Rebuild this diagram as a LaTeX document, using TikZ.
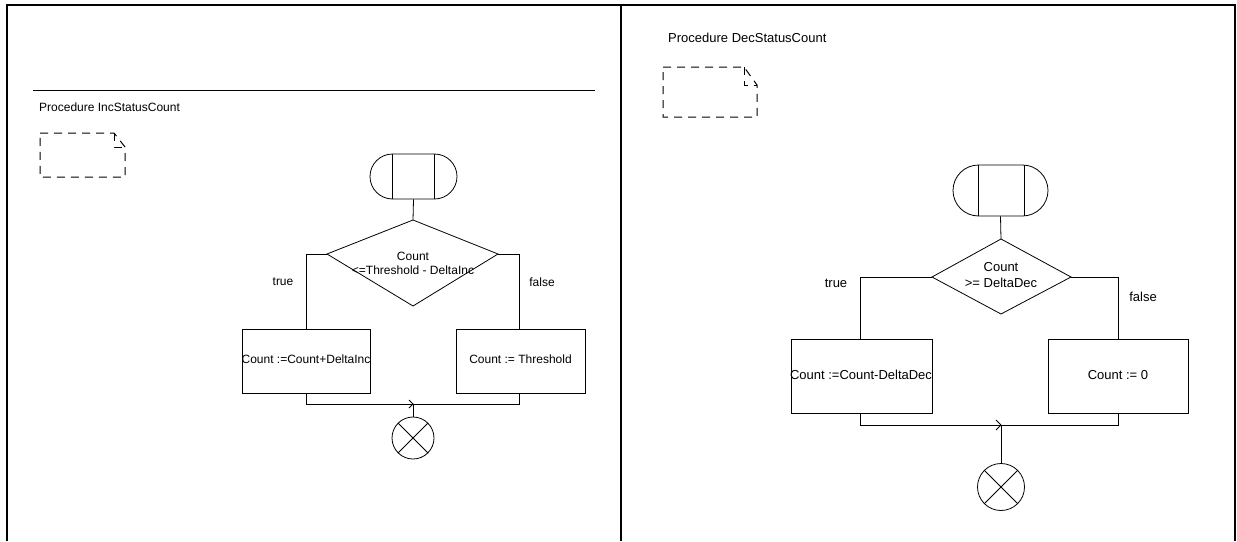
\documentclass[tikz,border=0pt]{standalone}
\usepackage{fontspec}
\setmainfont{Liberation Sans}
\begin{document}
\begin{tikzpicture}[x=1pt,y=-1pt,
  thin line/.style={line width=0.8pt},
  frameline/.style={line width=2.5pt},
  notebox/.style={line width=1pt, dash pattern=on 8pt off 6pt},
  txtL/.style={font=\fontsize{12}{15}\selectfont, inner sep=0pt, align=center},
  txtR/.style={font=\fontsize{13}{17}\selectfont, inner sep=0pt, align=center},
  actbox/.style={draw, line width=0.8pt, rectangle, inner sep=0pt},
  endnode/.style={draw, line width=0.8pt, circle, inner sep=0pt},
  startnode/.style={draw, line width=0.8pt, inner sep=0pt}
]
\useasboundingbox (0,0) rectangle (1237,541);
% frame
\draw[frameline] (7,541) -- (7,5) -- (1235,5) -- (1235,541);
\draw[frameline] (621,5) -- (621,541);

%================ LEFT PANEL ================
\draw[thin line] (33,90) -- (595,90);
\node[txtL, anchor=west] (titleL) at (39,107) {Procedure IncStatusCount};
\draw[notebox] (40,133) -- (114,133) -- (125,147) -- (125,177) -- (40,177) -- cycle;
\draw[notebox] (114,133) -- (114,147) -- (125,147);

% start
\node[startnode, rounded corners=22.5pt, minimum width=87pt, minimum height=45pt] (sL) at (413.5,176.5) {};
\draw[thin line] (392,154) -- (392,199);
\draw[thin line] (434,154) -- (434,199);

% decision (drawn from its vertices)
\coordinate (dLt) at (413,220);
\coordinate (dLl) at (327,254);
\coordinate (dLr) at (498,254);
\coordinate (dLb) at (413,306);
\draw[thin line] (dLt) -- (dLr) -- (dLb) -- (dLl) -- cycle;
\node[txtL] (dLtext) at (413,263) {Count\\[-1pt]<=Threshold - DeltaInc};
\draw[thin line] (sL.south) -- (dLt);

% actions
\node[actbox, minimum width=128pt, minimum height=64pt] (aL1) at (306,361) {};
\node[txtL] (aL1t) at (306,359) {Count :=Count+DeltaInc};
\node[actbox, minimum width=129pt, minimum height=64pt] (aL2) at (520.5,361) {};
\node[txtL] (aL2t) at (520.5,359) {Count := Threshold};

\draw[thin line] (dLl) -- (306,254) -- (aL1.north -| 306,0);
\draw[thin line] (dLr) -- (519,254) -- (aL2.north -| 519,0);
\node[txtL] (trueL) at (283,282) {true};
\node[txtL] (falseL) at (542,282) {false};

% merge
\coordinate (jL) at (413,404);
\node[endnode, minimum size=42pt] (eL) at (413,438) {};
\draw[thin line] (aL1.south -| 306,0) -- (306,404) -- (519,404) -- (aL2.south -| 519,0);
\draw[thin line] (409,400) -- (jL) -- (409,408);
\draw[thin line] (jL) -- (eL.north);
\draw[thin line] (eL.45) -- (eL.225);
\draw[thin line] (eL.135) -- (eL.-45);

%================ RIGHT PANEL ================
\node[txtR, anchor=west] (titleR) at (668,38) {Procedure DecStatusCount};
\draw[notebox] (663,67) -- (744,67) -- (757,85) -- (757,117) -- (663,117) -- cycle;
\draw[notebox] (744,67) -- (744,85) -- (757,85);

\node[startnode, rounded corners=25.5pt, minimum width=95pt, minimum height=51pt] (sR) at (1000.5,190.5) {};
\draw[thin line] (978,165) -- (978,216);
\draw[thin line] (1024,165) -- (1024,216);

\coordinate (dRt) at (1001,239);
\coordinate (dRl) at (932,277);
\coordinate (dRr) at (1071,277);
\coordinate (dRb) at (1001,314);
\draw[thin line] (dRt) -- (dRr) -- (dRb) -- (dRl) -- cycle;
\node[txtR] (dRtext) at (1001,275.5) {Count\\[-1pt]>= DeltaDec};
\draw[thin line] (sR.south) -- (dRt);

\node[actbox, minimum width=141pt, minimum height=74pt] (aR1) at (861.5,376) {};
\node[txtR] (aR1t) at (861,375) {Count :=Count-DeltaDec};
\node[actbox, minimum width=140pt, minimum height=74pt] (aR2) at (1118,376) {};
\node[txtR] (aR2t) at (1118,375) {Count := 0};

\draw[thin line] (dRl) -- (860,277) -- (aR1.north -| 860,0);
\draw[thin line] (dRr) -- (1118,277) -- (aR2.north);
\node[txtR] (trueR) at (836,283) {true};
\node[txtR] (falseR) at (1143,297) {false};

\coordinate (jR) at (1001,425);
\node[endnode, minimum size=47pt] (eR) at (1001,487) {};
\draw[thin line] (aR1.south -| 860,0) -- (860,425) -- (1118,425) -- (aR2.south);
\draw[thin line] (996,420) -- (jR) -- (996,430);
\draw[thin line] (jR) -- (eR.north);
\draw[thin line] (eR.45) -- (eR.225);
\draw[thin line] (eR.135) -- (eR.-45);
\end{tikzpicture}
\end{document}
